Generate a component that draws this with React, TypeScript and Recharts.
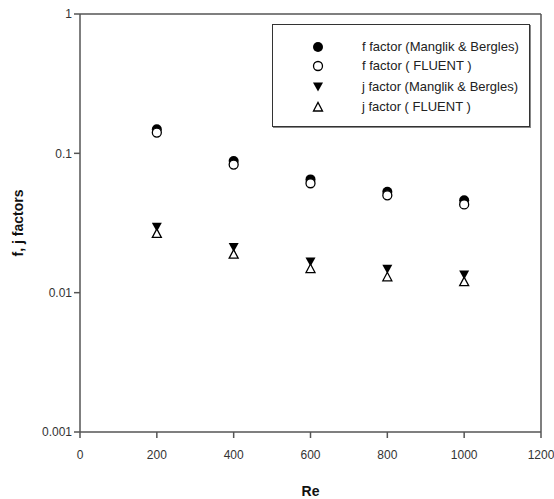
import React from 'react';
import { ScatterChart, Scatter, XAxis, YAxis, Legend, ReferenceLine } from 'recharts';

const reynolds = [200, 400, 600, 800, 1000];
const fManglik = [0.149, 0.088, 0.065, 0.053, 0.046];
const fFluent = [0.141, 0.083, 0.061, 0.05, 0.043];
const jManglik = [0.0295, 0.0211, 0.0166, 0.0147, 0.0134];
const jFluent = [0.0266, 0.0189, 0.0149, 0.013, 0.012];

const xTicks = [0, 200, 400, 600, 800, 1000, 1200];
const yTicks = [0.001, 0.01, 0.1, 1];

const legendNames = [
  'f factor (Manglik & Bergles)',
  'f factor ( FLUENT )',
  'j factor (Manglik & Bergles)',
  'j factor ( FLUENT )',
];

const toPoints = (vals: number[]) => reynolds.map((re, i) => ({ re, v: vals[i] }));

const FilledCircle = ({ cx, cy }: any) => <circle cx={cx} cy={cy} r={5} fill="#000" />;
const OpenCircle = ({ cx, cy }: any) => (
  <circle cx={cx} cy={cy} r={4.5} fill="#fff" stroke="#000" strokeWidth={1.3} />
);
const DownTriangle = ({ cx, cy }: any) => (
  <path d={`M${cx - 5},${cy - 4.5} L${cx + 5},${cy - 4.5} L${cx},${cy + 4.5} Z`} fill="#000" />
);
const UpTriangle = ({ cx, cy }: any) => (
  <path
    d={`M${cx - 4.5},${cy + 4} L${cx + 4.5},${cy + 4} L${cx},${cy - 4.5} Z`}
    fill="#fff"
    stroke="#000"
    strokeWidth={1.3}
  />
);

const shapes = [FilledCircle, OpenCircle, DownTriangle, UpTriangle];

const LegendBox = () => (
  <div
    style={{
      width: 256,
      height: 101,
      border: '1.5px solid #333',
      boxShadow: '1px 1px 0 #888',
      background: '#fff',
      fontFamily: '"Liberation Sans", Arial, sans-serif',
      fontSize: 13,
      color: '#222',
      position: 'relative',
    }}
  >
    {legendNames.map((name, i) => {
      const Shape = shapes[i];
      const top = [15, 34, 55, 75][i];
      return (
        <div key={name} style={{ position: 'absolute', left: 0, top, height: 14, width: '100%' }}>
          <svg width={14} height={14} style={{ position: 'absolute', left: 38, top: 0 }}>
            <Shape cx={7} cy={7} />
          </svg>
          <span style={{ position: 'absolute', left: 89, top: 0, lineHeight: '14px' }}>{name}</span>
        </div>
      );
    })}
  </div>
);

const axisStroke = '#555';
const tickStyle = { fill: '#333', fontSize: 12, fontFamily: '"Liberation Sans", Arial, sans-serif' };

export default function App() {
  return (
    <div style={{ position: 'absolute', left: 0, top: 0 }}>
      <ScatterChart width={554} height={499} margin={{ top: 14, right: 13, bottom: 0, left: 0 }}>
        <XAxis
          type="number"
          dataKey="re"
          domain={[0, 1200]}
          ticks={xTicks}
          height={67}
          tickMargin={12}
          stroke={axisStroke}
          strokeWidth={1.5}
          tick={tickStyle}
          label={{
            value: 'Re',
            position: 'insideBottom',
            offset: 3,
            style: { fontWeight: 'bold', fontSize: 14, fill: '#111', fontFamily: '"Liberation Sans", Arial, sans-serif' },
          }}
        />
        <YAxis
          type="number"
          dataKey="v"
          scale="log"
          domain={[0.001, 1]}
          ticks={yTicks}
          allowDataOverflow
          width={80}
          stroke={axisStroke}
          strokeWidth={1.5}
          tick={tickStyle}
          tickFormatter={(v: number) => String(v)}
          label={{
            value: 'f, j factors',
            angle: -90,
            position: 'insideLeft',
            offset: 18,
            style: {
              textAnchor: 'middle',
              fontWeight: 'bold',
              fontSize: 14,
              fill: '#111',
              fontFamily: '"Liberation Sans", Arial, sans-serif',
            },
          }}
        />
        <ReferenceLine y={1} stroke={axisStroke} strokeWidth={1.5} />
        <ReferenceLine x={1200} stroke={axisStroke} strokeWidth={1.5} />
        <Legend
          layout="horizontal"
          verticalAlign="middle"
          align="center"
          content={() => <LegendBox />}
          wrapperStyle={{ left: 272, top: 24, width: 259, height: 104 }}
        />
        <Scatter name={legendNames[0]} data={toPoints(fManglik)} shape={FilledCircle} isAnimationActive={false} />
        <Scatter name={legendNames[1]} data={toPoints(fFluent)} shape={OpenCircle} isAnimationActive={false} />
        <Scatter name={legendNames[2]} data={toPoints(jManglik)} shape={DownTriangle} isAnimationActive={false} />
        <Scatter name={legendNames[3]} data={toPoints(jFluent)} shape={UpTriangle} isAnimationActive={false} />
      </ScatterChart>
    </div>
  );
}
